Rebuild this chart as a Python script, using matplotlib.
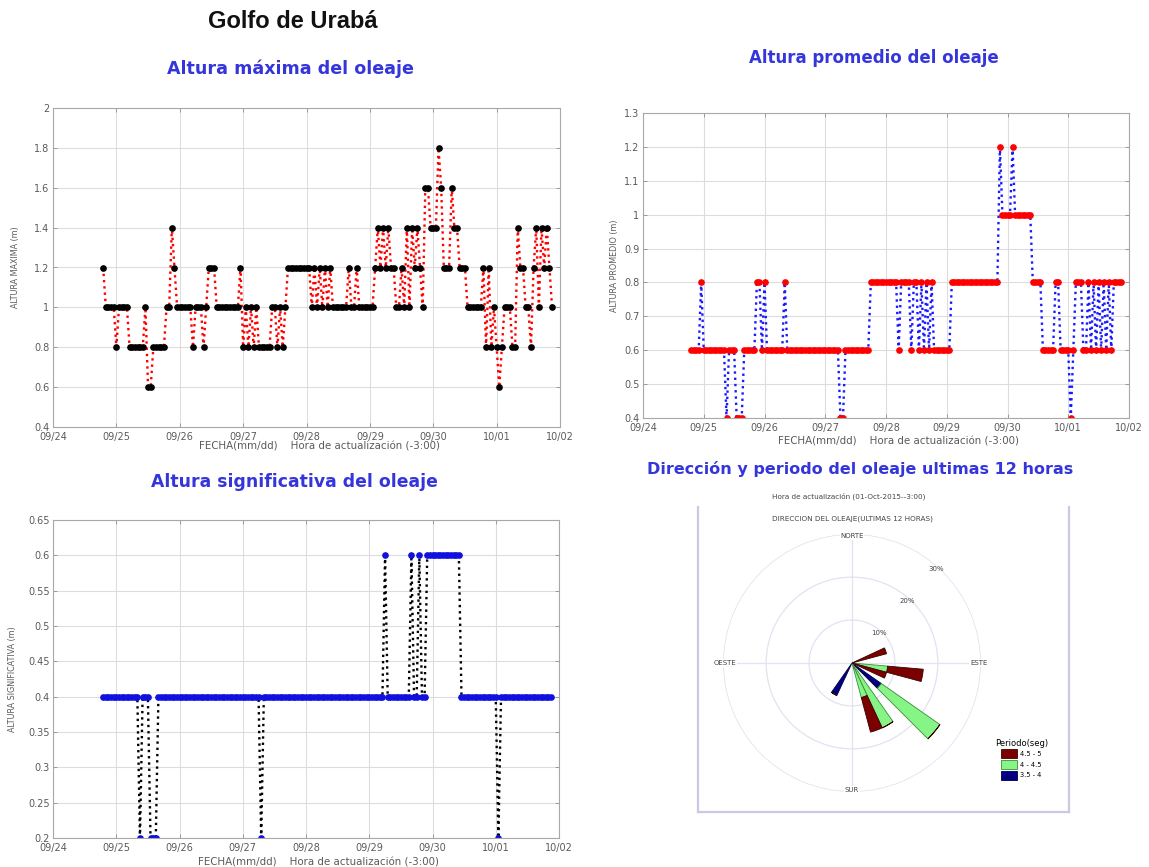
import numpy as np
import matplotlib
matplotlib.use("Agg")
import matplotlib.pyplot as plt
import matplotlib.dates as mdates
from matplotlib.ticker import FuncFormatter

# ---------------------------------------------------------------------------
# Hourly wave heights (m), starting 2015-09-24 19:00 (one row per day)
# ---------------------------------------------------------------------------
start_time = np.datetime64("2015-09-24T19:00")

altura_maxima = [
    1.2, 1.0, 1.0, 1.0, 1.0,
    0.8, 1.0, 1.0, 1.0, 1.0, 0.8, 0.8, 0.8, 0.8, 0.8, 0.8, 1.0, 0.6, 0.6, 0.8, 0.8, 0.8, 0.8, 0.8, 1.0, 1.0, 1.4, 1.2, 1.0,
    1.0, 1.0, 1.0, 1.0, 1.0, 0.8, 1.0, 1.0, 1.0, 0.8, 1.0, 1.2, 1.2, 1.2, 1.0, 1.0, 1.0, 1.0, 1.0, 1.0, 1.0, 1.0, 1.0, 1.2,
    0.8, 1.0, 0.8, 1.0, 0.8, 1.0, 0.8, 0.8, 0.8, 0.8, 0.8, 1.0, 1.0, 0.8, 1.0, 0.8, 1.0, 1.2, 1.2, 1.2, 1.2, 1.2, 1.2, 1.2,
    1.2, 1.2, 1.0, 1.2, 1.0, 1.2, 1.0, 1.2, 1.0, 1.2, 1.0, 1.0, 1.0, 1.0, 1.0, 1.0, 1.2, 1.0, 1.0, 1.2, 1.0, 1.0, 1.0, 1.0,
    1.0, 1.0, 1.2, 1.4, 1.2, 1.4, 1.2, 1.4, 1.2, 1.2, 1.0, 1.0, 1.2, 1.0, 1.4, 1.0, 1.4, 1.2, 1.4, 1.2, 1.0, 1.6, 1.6, 1.4,
    1.4, 1.4, 1.8, 1.6, 1.2, 1.2, 1.2, 1.6, 1.4, 1.4, 1.2, 1.2, 1.2, 1.0, 1.0, 1.0, 1.0, 1.0, 1.0, 1.2, 0.8, 1.2, 0.8, 1.0,
    0.8, 0.6, 0.8, 1.0, 1.0, 1.0, 0.8, 0.8, 1.4, 1.2, 1.2, 1.0, 1.0, 0.8, 1.2, 1.4, 1.0, 1.4, 1.2, 1.4, 1.2, 1.0,
]

altura_promedio = [
    0.6, 0.6, 0.6, 0.6, 0.8,
    0.6, 0.6, 0.6, 0.6, 0.6, 0.6, 0.6, 0.6, 0.6, 0.4, 0.6, 0.6, 0.6, 0.4, 0.4, 0.4, 0.6, 0.6, 0.6, 0.6, 0.6, 0.8, 0.8, 0.6,
    0.8, 0.6, 0.6, 0.6, 0.6, 0.6, 0.6, 0.6, 0.8, 0.6, 0.6, 0.6, 0.6, 0.6, 0.6, 0.6, 0.6, 0.6, 0.6, 0.6, 0.6, 0.6, 0.6, 0.6,
    0.6, 0.6, 0.6, 0.6, 0.6, 0.6, 0.4, 0.4, 0.6, 0.6, 0.6, 0.6, 0.6, 0.6, 0.6, 0.6, 0.6, 0.6, 0.8, 0.8, 0.8, 0.8, 0.8, 0.8,
    0.8, 0.8, 0.8, 0.8, 0.8, 0.6, 0.8, 0.8, 0.8, 0.8, 0.6, 0.8, 0.8, 0.6, 0.8, 0.6, 0.8, 0.6, 0.8, 0.6, 0.6, 0.6, 0.6, 0.6,
    0.6, 0.6, 0.8, 0.8, 0.8, 0.8, 0.8, 0.8, 0.8, 0.8, 0.8, 0.8, 0.8, 0.8, 0.8, 0.8, 0.8, 0.8, 0.8, 0.8, 0.8, 1.2, 1.0, 1.0,
    1.0, 1.0, 1.2, 1.0, 1.0, 1.0, 1.0, 1.0, 1.0, 1.0, 0.8, 0.8, 0.8, 0.8, 0.6, 0.6, 0.6, 0.6, 0.6, 0.8, 0.8, 0.6, 0.6, 0.6,
    0.6, 0.4, 0.6, 0.8, 0.8, 0.8, 0.6, 0.6, 0.8, 0.6, 0.8, 0.6, 0.8, 0.6, 0.8, 0.6, 0.8, 0.6, 0.8, 0.8, 0.8, 0.8,
]

altura_significativa = [
    0.4, 0.4, 0.4, 0.4, 0.4,
    0.4, 0.4, 0.4, 0.4, 0.4, 0.4, 0.4, 0.4, 0.4, 0.2, 0.4, 0.4, 0.4, 0.2, 0.2, 0.2, 0.4, 0.4, 0.4, 0.4, 0.4, 0.4, 0.4, 0.4,
    0.4, 0.4, 0.4, 0.4, 0.4, 0.4, 0.4, 0.4, 0.4, 0.4, 0.4, 0.4, 0.4, 0.4, 0.4, 0.4, 0.4, 0.4, 0.4, 0.4, 0.4, 0.4, 0.4, 0.4,
    0.4, 0.4, 0.4, 0.4, 0.4, 0.4, 0.4, 0.2, 0.4, 0.4, 0.4, 0.4, 0.4, 0.4, 0.4, 0.4, 0.4, 0.4, 0.4, 0.4, 0.4, 0.4, 0.4, 0.4,
    0.4, 0.4, 0.4, 0.4, 0.4, 0.4, 0.4, 0.4, 0.4, 0.4, 0.4, 0.4, 0.4, 0.4, 0.4, 0.4, 0.4, 0.4, 0.4, 0.4, 0.4, 0.4, 0.4, 0.4,
    0.4, 0.4, 0.4, 0.4, 0.4, 0.4, 0.6, 0.4, 0.4, 0.4, 0.4, 0.4, 0.4, 0.4, 0.4, 0.4, 0.6, 0.4, 0.4, 0.6, 0.4, 0.4, 0.6, 0.6,
    0.6, 0.6, 0.6, 0.6, 0.6, 0.6, 0.6, 0.6, 0.6, 0.6, 0.6, 0.4, 0.4, 0.4, 0.4, 0.4, 0.4, 0.4, 0.4, 0.4, 0.4, 0.4, 0.4, 0.4,
    0.4, 0.2, 0.4, 0.4, 0.4, 0.4, 0.4, 0.4, 0.4, 0.4, 0.4, 0.4, 0.4, 0.4, 0.4, 0.4, 0.4, 0.4, 0.4, 0.4, 0.4, 0.4,
]

# Wave rose: last 12 observations, counted by direction bin and period class
rose_direcciones = [70, 100, 110, 130, 150, 160, 210]      # degrees from north
obs_3_5_a_4 = [0, 0, 0, 1, 0, 0, 1]
obs_4_a_4_5 = [0, 1, 0, 2, 2, 1, 0]
obs_4_5_a_5 = [1, 1, 1, 0, 0, 1, 0]
total_obs = 12
periodo_labels = ["4.5 - 5", "4 - 4.5", "3.5 - 4"]
periodo_colors = ["#7b0000", "#86f586", "#000080"]

dias = np.arange(np.datetime64("2015-09-24"), np.datetime64("2015-10-03"),
                 np.timedelta64(1, "D"))

# ---------------------------------------------------------------------------
W, H = 1149, 867
fig = plt.figure(figsize=(W / 100, H / 100), dpi=100)
fig.patch.set_facecolor("white")


def box(left, top, right, bottom):
    """Pixel rectangle -> figure fraction rectangle."""
    return [left / W, 1 - bottom / H, (right - left) / W, (bottom - top) / H]


def hourly_times(values):
    return start_time + np.arange(len(values)) * np.timedelta64(1, "h")


TICK_GREY = "#5a5a5a"
TITLE_BLUE = "#3535dc"


def style_series_axes(ax, ylim, yticks, ylabel, ylabel_x, xlabel_y):
    ax.set_xlim(dias[0], dias[-1])
    ax.set_xticks(dias)
    ax.xaxis.set_major_formatter(mdates.DateFormatter("%m/%d"))
    ax.set_ylim(*ylim)
    ax.set_yticks(yticks)
    ax.yaxis.set_major_formatter(FuncFormatter(lambda v, p: f"{v:g}"))
    ax.grid(True, color="#dddddd", lw=0.8)
    ax.set_axisbelow(True)
    ax.tick_params(direction="in", length=3, width=0.6, color="#909090",
                   labelcolor=TICK_GREY, labelsize=7, top=True, right=True)
    ax.tick_params(axis="x", pad=3.5)
    ax.tick_params(axis="y", pad=2.5)
    for s in ax.spines.values():
        s.set_color("#a8a8a8")
        s.set_linewidth(0.8)
    ax.set_ylabel(ylabel, fontsize=5.8, color=TICK_GREY)
    ax.yaxis.set_label_coords(ylabel_x, 0.5)
    ax.set_xlabel("FECHA(mm/dd)    Hora de actualización (-3:00)",
                  fontsize=7.4, color=TICK_GREY)
    ax.xaxis.set_label_coords(0.525, xlabel_y)


# --- Altura máxima -----------------------------------------------------------
ax1 = fig.add_axes(box(53, 108, 560, 427))
ax1.plot(hourly_times(altura_maxima), altura_maxima, ls=":", color="red", lw=1.7,
         marker="o", ms=3.8, mfc="black", mec="black")
style_series_axes(ax1, (0.4, 2.0), np.arange(0.4, 2.01, 0.2),
                  "ALTURA MAXIMA (m)", -0.066, -0.047)

# --- Altura promedio ---------------------------------------------------------
ax2 = fig.add_axes(box(643, 113, 1129, 418))
ax2.plot(hourly_times(altura_promedio), altura_promedio, ls=":", color="#1a1aff", lw=1.7,
         marker="o", ms=3.8, mfc="red", mec="red")
style_series_axes(ax2, (0.4, 1.3), np.arange(0.4, 1.31, 0.1),
                  "ALTURA PROMEDIO (m)", -0.05, -0.06)

# --- Altura significativa ----------------------------------------------------
ax3 = fig.add_axes(box(53, 520, 559, 838))
ax3.plot(hourly_times(altura_significativa), altura_significativa, ls=":", color="black",
         lw=1.7, marker="o", ms=3.8, mfc="#1010e0", mec="#1010e0")
style_series_axes(ax3, (0.2, 0.65), np.arange(0.2, 0.651, 0.05),
                  "ALTURA SIGNIFICATIVA (m)", -0.072, -0.06)

# --- Wave rose ---------------------------------------------------------------
frame = fig.add_axes(box(698, 507, 1069, 812))
frame.set_facecolor("none")
frame.set_xticks([])
frame.set_yticks([])
frame.spines["top"].set_visible(False)
for side in ("left", "right", "bottom"):
    frame.spines[side].set_color("#c9c9e6")
    frame.spines[side].set_linewidth(1.6)

axp = fig.add_axes(box(723, 534, 981, 792), projection="polar")
axp.set_facecolor("none")
axp.set_theta_zero_location("N")
axp.set_theta_direction(-1)
axp.set_ylim(0, 30.05)
axp.set_rgrids([10, 20, 30], labels=[])
axp.set_thetagrids([0, 90, 180, 270], labels=[])
axp.grid(True, color="#e2e2f2", lw=0.9)
axp.spines["polar"].set_visible(False)

theta = np.deg2rad(rose_direcciones)
width = np.deg2rad(10)
pct = lambda counts: np.array(counts) / total_obs * 100
p_navy = pct(obs_3_5_a_4)
p_green = pct(obs_4_a_4_5)
p_red = pct(obs_4_5_a_5)
edge = dict(linewidth=0.6, zorder=3)
b_navy = axp.bar(theta, p_navy, width=width, bottom=0, color=periodo_colors[2],
                 edgecolor="#000040", **edge)
b_green = axp.bar(theta, p_green, width=width, bottom=p_navy, color=periodo_colors[1],
                  edgecolor="#3c8a3c", **edge)
b_red = axp.bar(theta, p_red, width=width, bottom=p_navy + p_green, color=periodo_colors[0],
                edgecolor="#3a0000", **edge)

for ang, lab in [(0, "NORTE"), (90, "ESTE"), (180, "SUR"), (270, "OESTE")]:
    axp.text(np.deg2rad(ang), 29.5, lab, ha="center", va="center", fontsize=5,
             color="#444444", bbox=dict(fc="white", ec="none", pad=0.5), zorder=4)
for r in (10, 20, 30):
    axp.text(np.deg2rad(42), r - 0.6, f"{r}%", ha="center", va="center",
             fontsize=5, color="#444444", zorder=4)

fig.legend([b_red, b_green, b_navy], periodo_labels, title="Periodo(seg)",
           loc="upper left", bbox_to_anchor=(990 / W, 1 - 734 / H), frameon=False,
           fontsize=4.8, title_fontsize=6, handlelength=2.4, handleheight=1.7,
           handletextpad=0.4, labelspacing=0.25, borderpad=0.2)

# --- Titles ------------------------------------------------------------------
fig.text(293 / W, 1 - 22 / H, "Golfo de Urabá", ha="center", va="center",
         fontsize=17, fontweight="bold", family="Liberation Sans", color="#111111")
blue_title = dict(ha="center", va="center", fontweight="bold",
                  color=TITLE_BLUE, family="DejaVu Sans")
fig.text(290 / W, 1 - 69 / H, "Altura máxima del oleaje", fontsize=12.6, **blue_title)
fig.text(874 / W, 1 - 58 / H, "Altura promedio del oleaje", fontsize=12, **blue_title)
fig.text(294 / W, 1 - 482 / H, "Altura significativa del oleaje", fontsize=12.4, **blue_title)
fig.text(860 / W, 1 - 469 / H, "Dirección y periodo del oleaje ultimas 12 horas",
         fontsize=11.5, **blue_title)
fig.text(849 / W, 1 - 496 / H, "Hora de actualización (01-Oct-2015--3:00)",
         ha="center", va="center", fontsize=5.2, color="#444444")
fig.text(852 / W, 1 - 519 / H, "DIRECCION DEL OLEAJE(ULTIMAS 12 HORAS)",
         ha="center", va="center", fontsize=5.2, color="#444444")

fig.savefig("out.png", dpi=100, facecolor="white")
